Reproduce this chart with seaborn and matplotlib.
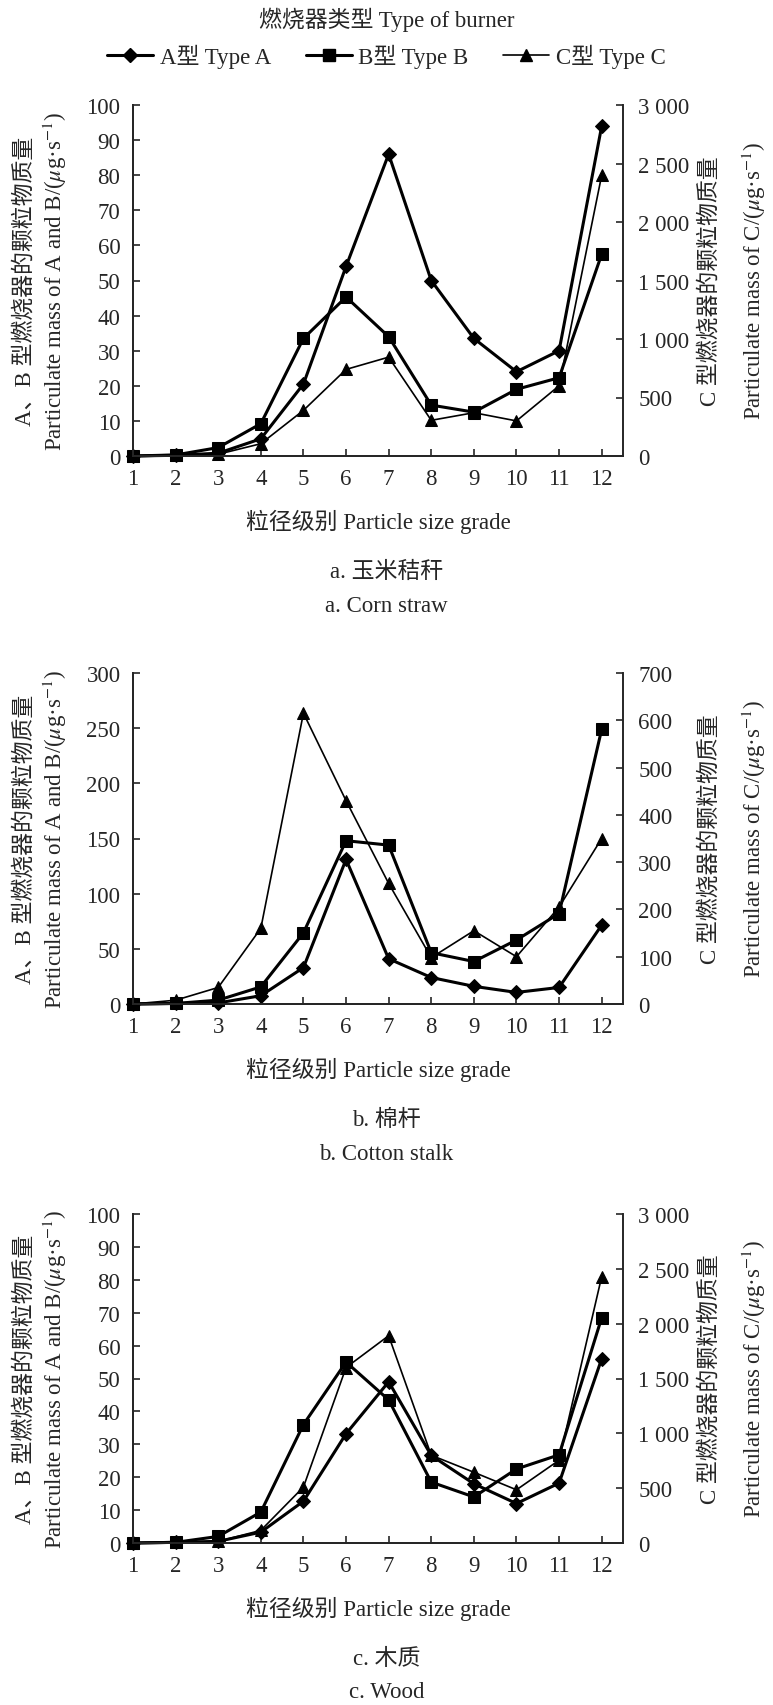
import matplotlib
matplotlib.use("Agg")
import matplotlib.pyplot as plt
import seaborn as sns
from matplotlib.lines import Line2D
from matplotlib.ticker import FuncFormatter

grade = list(range(1, 13))

# a. corn straw
corn_A = [0, 0.2, 0.8, 4.9, 20.5, 54, 86, 50, 33.5, 24, 30, 94]
corn_B = [0, 0.3, 2.4, 9.2, 33.5, 45.3, 34, 14.5, 12.5, 19, 22.3, 57.5]
corn_C = [0, 5, 15, 105, 390, 740, 845, 305, 370, 300, 600, 2400]

# b. cotton stalk
cotton_A = [0, 0.5, 1, 7.5, 33, 131, 41, 24, 16, 10.5, 15, 71.5]
cotton_B = [0, 0.5, 3.5, 15.5, 64.5, 148, 144, 46.5, 38.5, 58, 82, 249]
cotton_C = [0, 8, 35, 160, 615, 430, 255, 98, 155, 100, 205, 350]

# c. wood
wood_A = [0, 0.2, 0.5, 3.3, 12.7, 33.2, 49, 26.6, 18, 12, 18.2, 56]
wood_B = [0, 0.2, 2, 9.4, 36, 55, 43.5, 18.5, 14, 22.5, 26.8, 68.5]
wood_C = [0, 5, 15, 115, 510, 1600, 1890, 800, 645, 485, 755, 2430]

labels = ["A型 Type A", "B型 Type B", "C型 Type C"]

sns.set_style("ticks")
plt.rcParams["font.family"] = ["Liberation Serif", "Noto Sans CJK SC"]
plt.rcParams["mathtext.fontset"] = "stix"
plt.rcParams["font.size"] = 16.5
plt.rcParams["axes.linewidth"] = 1.4

W, H = 773, 1706
fig = plt.figure(figsize=(W / 100, H / 100), dpi=100)

sty_A = dict(marker="D", markersize=7, linewidth=2.2)
sty_B = dict(marker="s", markersize=8.5, linewidth=2.2)
sty_C = dict(marker="^", markersize=8, linewidth=1.2)


def draw(top, bottom, A, B, C, ymax, ystep, cmax, cstep, cap1, cap2):
    ax = fig.add_axes([133 / W, 1 - bottom / H, 490 / W, (bottom - top) / H])
    ax2 = ax.twinx()
    for vals, st, a in [(A, sty_A, ax), (B, sty_B, ax), (C, sty_C, ax2)]:
        sns.lineplot(x=grade, y=vals, ax=a, color="black", markeredgecolor="black",
                     markerfacecolor="black", clip_on=False, **st)
    ax.set_xlim(1, 12.5)
    ax.set_ylim(0, ymax)
    ax2.set_ylim(0, cmax)
    ax.set_xticks(grade)
    ax.set_yticks(range(0, ymax + 1, ystep))
    ax2.set_yticks(range(0, cmax + 1, cstep))
    ax2.yaxis.set_major_formatter(FuncFormatter(lambda v, p: f"{int(v):,}".replace(",", " ")))
    for a in (ax, ax2):
        a.spines["top"].set_visible(False)
        a.set_xlabel("")
        a.set_ylabel("")
    ax.spines["right"].set_visible(False)
    ax2.spines["right"].set_linewidth(1.4)
    ax.tick_params(axis="x", direction="in", length=5, width=1.2, pad=9)
    ax.tick_params(axis="y", direction="in", length=5, width=1.2, pad=9)
    ax2.tick_params(axis="y", direction="in", length=5, width=1.2, pad=11)

    mid = 1 - (top + bottom) / 2 / H
    fig.text(25 / W, mid, "A、B 型燃烧器的颗粒物质量", rotation=90, ha="center", va="center")
    fig.text(55 / W, mid, r"Particulate mass of A and B/($\mu$g·s$^{-1}$)",
             rotation=90, ha="center", va="center")
    fig.text(710 / W, mid, "C 型燃烧器的颗粒物质量", rotation=90, ha="center", va="center")
    fig.text(754 / W, mid, r"Particulate mass of C/($\mu$g·s$^{-1}$)",
             rotation=90, ha="center", va="center")
    fig.text(378 / W, 1 - (bottom + 65) / H, "粒径级别 Particle size grade", ha="center", va="center")
    fig.text(0.5, 1 - (bottom + 115) / H, cap1, ha="center", va="center")
    fig.text(0.5, 1 - (bottom + 149) / H, cap2, ha="center", va="center")


draw(106, 457, corn_A, corn_B, corn_C, 100, 10, 3000, 500, "a. 玉米秸秆", "a. Corn straw")
draw(674, 1005, cotton_A, cotton_B, cotton_C, 300, 50, 700, 100, "b. 棉杆", "b. Cotton stalk")
draw(1215, 1544, wood_A, wood_B, wood_C, 100, 10, 3000, 500, "c. 木质", "c. Wood")

fig.text(0.5, 1 - 20 / H, "燃烧器类型 Type of burner", ha="center", va="center")
handles = [Line2D([], [], color="black", **s) for s in (sty_A, sty_B, sty_C)]
fig.legend(handles, labels, loc="center", bbox_to_anchor=(0.5, 1 - 57 / H), ncol=3,
           frameon=False, handlelength=2, handletextpad=0.3, columnspacing=1.5)

fig.savefig("out.png", dpi=100)
